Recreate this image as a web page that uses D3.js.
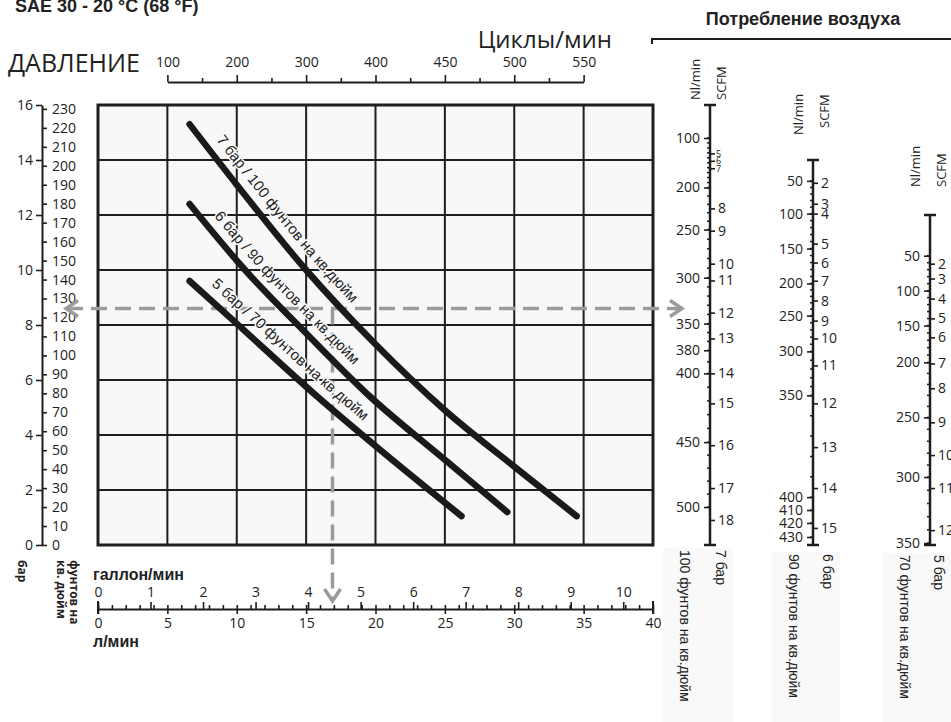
<!DOCTYPE html>
<html>
<head>
<meta charset="utf-8">
<script src="https://cdn.jsdelivr.net/npm/d3@7"></script>
<style>
  body { margin: 0; background: #fff; }
  text { font-family: "Open Sans", sans-serif; fill: #222; }
</style>
</head>
<body>
<div id="chart"></div>
<script>
// ---- data ----
const lpmTicks = [0, 5, 10, 15, 20, 25, 30, 35, 40];
const gpmTicks = [0, 1, 2, 3, 4, 5, 6, 7, 8, 9, 10];
const barTicks = [0, 2, 4, 6, 8, 10, 12, 14, 16];
const psiTicks = [0, 10, 20, 30, 40, 50, 60, 70, 80, 90, 100, 110, 120, 130, 140, 150, 160, 170, 180, 190, 200, 210, 220, 230];
const cycleTicks = [100, 200, 300, 400, 450, 500, 550];
const cycleAtLpm = [5, 10, 15, 20, 25, 30, 35];
const cycleMinor = [150, 250, 350, 425, 475, 525];

// flow (l/min) vs outlet pressure (bar)
const curve7 = [[6.6, 15.3], [10, 13.1], [15, 10.0], [20, 7.3], [25, 4.9], [30, 2.85], [34.5, 1.05]];
const curve6 = [[6.6, 12.4], [10.6, 10.0], [15, 7.7], [19.6, 5.4], [25, 3.1], [29.5, 1.2]];
const curve5 = [[6.6, 9.6], [10, 8.05], [15.8, 5.4], [20, 3.6], [26.2, 1.05]];
const curveLabels = ["7 бар / 100 фунтов на кв.дюйм", "6 бар / 90 фунтов на кв.дюйм", "5 бар / 70 фунтов на кв.дюйм"];

// worked example (dashed arrows)
const exampleBar = 8.6;
const exampleLpm = 16.9;

// air consumption nomographs: tick values and their height on the pressure scale (bar)
const nl7 = [100, 200, 250, 300, 350, 380, 400, 450, 500];
const nl7At = [14.8, 13.0, 11.47, 9.72, 8.05, 7.08, 6.24, 3.74, 1.38];
const scfm7 = [5, 6, 7, 8, 9, 10, 11, 12, 13, 14, 15, 16, 17, 18];
const scfm7At = [14.24, 13.97, 13.7, 12.24, 11.43, 10.23, 9.62, 8.45, 7.51, 6.24, 5.15, 3.63, 2.07, 0.91];

const nl6 = [50, 100, 150, 200, 250, 300, 350, 400, 410, 420, 430];
const nl6At = [13.24, 12.05, 10.78, 9.51, 8.34, 7.04, 5.44, 1.74, 1.27, 0.8, 0.29];
const scfm6 = [2, 3, 4, 5, 6, 7, 8, 9, 10, 11, 12, 13, 14, 15];
const scfm6At = [13.17, 12.41, 12.05, 10.96, 10.27, 9.61, 8.89, 8.16, 7.51, 6.53, 5.15, 3.56, 2.07, 0.62];

const nl5 = [50, 100, 150, 200, 250, 300, 350];
const nl5At = [10.52, 9.25, 7.98, 6.64, 4.64, 2.47, 0.07];
const scfm5 = [2, 3, 4, 5, 6, 7, 8, 9, 10, 11, 12];
const scfm5At = [10.23, 9.69, 8.96, 8.24, 7.55, 6.6, 5.7, 4.46, 3.27, 2.07, 0.54];

const airPressures = ["7 бар", "6 бар", "5 бар"];
const airPsi = ["100 фунтов на кв.дюйм", "90 фунтов на кв.дюйм", "70 фунтов на кв.дюйм"];

// ---- layout ----
const W = 951, H = 722;
const PSI_TO_BAR = 0.0689476;
const GAL_TO_L = 3.78541;

const svg = d3.select("#chart").append("svg")
  .attr("width", W).attr("height", H)
  .attr("viewBox", [0, 0, W, H]);

const x = d3.scaleLinear([0, 40], [98, 653]);
const y = d3.scaleLinear([0, 16], [545, 105]);
const yPsi = d3.scaleLinear([0, 16 / PSI_TO_BAR], [545, 105]);
const xGal = d3.scaleLinear([0, 40 / GAL_TO_L], [98, 653]);
const xCyc = d3.scaleLinear(cycleTicks, cycleAtLpm.map(v => x(v)));

const ink = "#1e1e1e";
const numFont = "14px";
const boldFont = "Liberation Sans, Arial, sans-serif";

// title
svg.append("text").attr("x", 15).attr("y", 12)
  .style("font-family", boldFont)
  .style("font-weight", "bold").style("font-size", "18px")
  .text("SAE 30 - 20 °C (68 °F)");

svg.append("text").attr("x", 8).attr("y", 72)
  .style("font-size", "25px").text("ДАВЛЕНИЕ");
svg.append("text").attr("x", 612).attr("y", 48).attr("text-anchor", "end")
  .style("font-size", "24px").text("Циклы/мин");

// plot background + grid
svg.append("rect").attr("x", x(0)).attr("y", y(16))
  .attr("width", x(40) - x(0)).attr("height", y(0) - y(16))
  .attr("fill", "#f8f8f8");

const grid = svg.append("g").attr("stroke", ink).attr("stroke-width", 2);
grid.selectAll(".v").data(lpmTicks.slice(1, -1)).join("line")
  .attr("x1", d => x(d)).attr("x2", d => x(d)).attr("y1", y(16)).attr("y2", y(0));
grid.selectAll(".h").data(barTicks.slice(1, -1)).join("line")
  .attr("y1", d => y(d)).attr("y2", d => y(d)).attr("x1", x(0)).attr("x2", x(40));
svg.append("rect").attr("x", x(0)).attr("y", y(16))
  .attr("width", x(40) - x(0)).attr("height", y(0) - y(16))
  .attr("fill", "none").attr("stroke", ink).attr("stroke-width", 3);

function styleAxis(g) {
  g.selectAll("path.domain").attr("stroke", ink).attr("stroke-width", 2);
  g.selectAll(".tick line").attr("stroke", ink).attr("stroke-width", 1.6);
  g.selectAll(".tick text").attr("fill", "#222")
    .style("font-family", "Open Sans, sans-serif").style("font-size", numFont);
}

// left pressure axes
svg.append("g").attr("transform", "translate(42,0)")
  .call(d3.axisLeft(y).tickValues(barTicks).tickSize(6).tickSizeOuter(0).tickPadding(3))
  .call(styleAxis);
svg.append("g").attr("transform", "translate(42,0)")
  .call(d3.axisRight(yPsi).tickValues(psiTicks).tickSize(5).tickSizeOuter(0).tickPadding(5))
  .call(styleAxis)
  .call(g => g.select("path.domain").remove());

// top cycles axis
svg.append("g").attr("transform", "translate(0,82)")
  .call(d3.axisTop(xCyc).tickValues(cycleTicks).tickSize(7).tickSizeOuter(0).tickPadding(8))
  .call(styleAxis);
svg.append("g").attr("transform", "translate(0,82)")
  .call(d3.axisTop(xCyc).tickValues(cycleMinor).tickSize(4).tickFormat(""))
  .call(styleAxis)
  .call(g => g.select("path.domain").remove());

// bottom flow axes
const flowY = 609;
svg.append("g").attr("transform", `translate(0,${flowY})`)
  .call(d3.axisBottom(x).tickValues(lpmTicks).tickSize(5).tickSizeOuter(0).tickPadding(4))
  .call(styleAxis);
svg.append("g").attr("transform", `translate(0,${flowY})`)
  .call(d3.axisTop(x).tickValues(d3.range(0, 41, 1)).tickSize(4).tickFormat(""))
  .call(styleAxis)
  .call(g => g.select("path.domain").remove());
svg.append("g").attr("transform", `translate(0,${flowY})`)
  .call(d3.axisTop(xGal).tickValues(gpmTicks).tickSize(7).tickSizeOuter(0).tickPadding(5))
  .call(styleAxis)
  .call(g => g.select("path.domain").remove());
svg.append("g").attr("stroke", ink).attr("stroke-width", 2)
  .selectAll("line").data([0, 40]).join("line")
  .attr("x1", d => x(d)).attr("x2", d => x(d)).attr("y1", flowY - 8).attr("y2", flowY + 5);

svg.append("text").attr("x", 93).attr("y", 580)
  .style("font-family", boldFont).style("font-weight", "bold").style("font-size", "16px")
  .text("галлон/мин");
svg.append("text").attr("x", 93).attr("y", 647)
  .style("font-family", boldFont).style("font-weight", "bold").style("font-size", "16px")
  .text("л/мин");

// rotated unit labels under the pressure axis
const unitG = svg.append("g").style("font-family", boldFont)
  .style("font-weight", "bold").style("font-size", "12px");
[["бар", 22], ["фунтов на", 74], ["кв. дюйм", 61]].forEach(([t, cx]) => {
  unitG.append("text").attr("transform", `translate(${cx},560) rotate(90)`)
    .attr("dy", "0.35em").text(t);
});

// worked example dashed arrows
const dashC = "#9b9b9b";
const ex = svg.append("g").attr("stroke", dashC).attr("stroke-width", 3.5).attr("fill", "none");
ex.append("line").attr("x1", 67).attr("x2", 681)
  .attr("y1", y(exampleBar)).attr("y2", y(exampleBar)).attr("stroke-dasharray", "16 8");
ex.append("line").attr("x1", x(exampleLpm)).attr("x2", x(exampleLpm))
  .attr("y1", y(exampleBar)).attr("y2", flowY - 9).attr("stroke-dasharray", "16 8");
ex.append("path").attr("d", `M78,${y(exampleBar) - 8}L66,${y(exampleBar)}L78,${y(exampleBar) + 8}`);
ex.append("path").attr("d", `M670,${y(exampleBar) - 8}L682,${y(exampleBar)}L670,${y(exampleBar) + 8}`);
ex.append("path").attr("d", `M${x(exampleLpm) - 8},${flowY - 20}L${x(exampleLpm)},${flowY - 8}L${x(exampleLpm) + 8},${flowY - 20}`);

// performance curves
const line = d3.line().x(d => x(d[0])).y(d => y(d[1])).curve(d3.curveMonotoneX);
const curves = [curve7, curve6, curve5];
svg.append("g").selectAll("path").data(curves).join("path")
  .attr("d", line)
  .attr("fill", "none").attr("stroke", "#1a1a1a")
  .attr("stroke-width", 6.5).attr("stroke-linecap", "round");

// label guides: the same curves shifted up-right, off the stroke
const shift = 8;
const guide = d3.line().x(d => x(d[0]) + shift).y(d => y(d[1]) - shift).curve(d3.curveMonotoneX);
const defs = svg.append("defs");
curves.forEach((c, i) => defs.append("path").attr("id", "g" + i).attr("d", guide(c)));
const offsets = [30, 26, 18];

svg.append("g").selectAll("text").data(curveLabels).join("text")
  .style("font-family", "Liberation Sans, Arial, sans-serif").style("font-size", "15px")
  .attr("stroke", "#f8f8f8").attr("stroke-width", 3).attr("paint-order", "stroke")
  .append("textPath").attr("href", (d, i) => "#g" + i)
  .attr("startOffset", (d, i) => offsets[i])
  .text(d => d);

// ---- air consumption panel ----
svg.append("text").attr("x", 803).attr("y", 25).attr("text-anchor", "middle")
  .style("font-family", boldFont).style("font-weight", "bold").style("font-size", "18px")
  .text("Потребление воздуха");
svg.append("path").attr("d", "M652,44V39H951").attr("fill", "none")
  .attr("stroke", ink).attr("stroke-width", 2);

const panels = [
  { ax: 710, top: 16, nl: nl7, nlAt: nl7At, sc: scfm7, scAt: scfm7At, unitY: 100, unitY2: 100, box: [663, 733, 548] },
  { ax: 813, top: 14, nl: nl6, nlAt: nl6At, sc: scfm6, scAt: scfm6At, unitY: 135, unitY2: 128, box: [772, 840, 552] },
  { ax: 930, top: 12, nl: nl5, nlAt: nl5At, sc: scfm5, scAt: scfm5At, unitY: 187, unitY2: 187, box: [883, 951, 553] }
];

panels.forEach((p, i) => {
  const g = svg.append("g");
  const nlScale = d3.scaleLinear(p.nl, p.nlAt.map(v => y(v)));
  const scScale = d3.scaleLinear(p.sc, p.scAt.map(v => y(v)));

  const [bx0, bx1, by] = p.box;
  g.append("rect").attr("x", bx0).attr("y", by).attr("width", bx1 - bx0).attr("height", H - by)
    .attr("fill", "#f9f9f9");

  g.append("path")
    .attr("d", `M${p.ax - 6},${y(p.top)}H${p.ax + 6}M${p.ax},${y(p.top)}V${y(0)}M${p.ax - 6},${y(0)}H${p.ax + 6}`)
    .attr("fill", "none").attr("stroke", ink).attr("stroke-width", 2.5);

  // minor ticks every 10 Nl/min
  const minor = d3.range(p.nl[0], p.nl[p.nl.length - 1] + 1, 10);
  g.append("g").attr("stroke", ink).attr("stroke-width", 1.5)
    .selectAll("line").data(minor).join("line")
    .attr("x1", p.ax - 3).attr("x2", p.ax)
    .attr("y1", d => nlScale(d)).attr("y2", d => nlScale(d));

  g.append("g").attr("transform", `translate(${p.ax},0)`)
    .call(d3.axisLeft(nlScale).tickValues(p.nl).tickSize(6).tickPadding(4))
    .call(styleAxis).call(a => a.select("path.domain").remove());
  g.append("g").attr("transform", `translate(${p.ax},0)`)
    .call(d3.axisRight(scScale).tickValues(p.sc).tickSize(5).tickPadding(3))
    .call(styleAxis).call(a => a.select("path.domain").remove())
    // the crowded 5/6/7 SCFM marks on the 7 bar scale are set small
    .call(a => a.selectAll(".tick text").filter(d => i === 0 && d < 8)
      .style("font-size", "9px").attr("x", 6));

  g.append("text").attr("transform", `translate(${p.ax - 15},${p.unitY}) rotate(-90)`)
    .attr("dy", "0.35em").style("font-size", "13px").text("Nl/min");
  g.append("text").attr("transform", `translate(${p.ax + 11},${p.unitY2}) rotate(-90)`)
    .attr("dy", "0.35em").style("font-size", "13px").text("SCFM");

  g.append("text").attr("transform", `translate(${bx0 + 22},${by + 2}) rotate(90)`)
    .attr("dy", "0.35em").style("font-family", "Liberation Sans, Arial, sans-serif")
    .style("font-size", "14px").text(airPsi[i]);
  g.append("text").attr("transform", `translate(${bx1 - 12},${by + 2}) rotate(90)`)
    .attr("dy", "0.35em").style("font-family", "Liberation Sans, Arial, sans-serif")
    .style("font-size", "14px").text(airPressures[i]);
});
</script>
</body>
</html>
